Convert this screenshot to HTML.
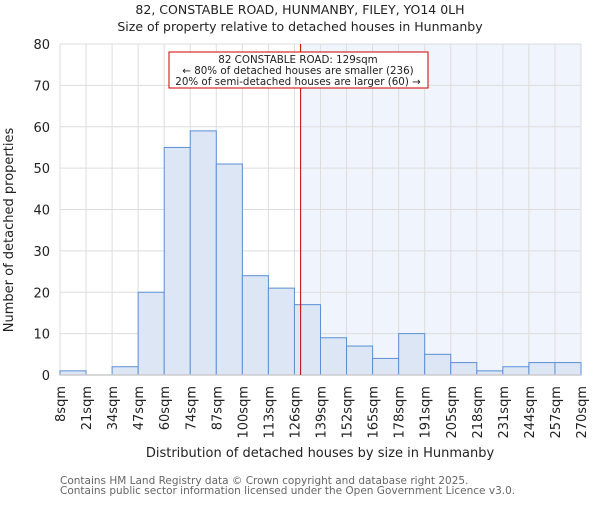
<!DOCTYPE html>
<html><head><meta charset="utf-8"><style>
body{margin:0;background:#fff}
svg{font-family:"DejaVu Sans","Liberation Sans",sans-serif}
</style></head><body>
<svg width="600" height="500">
<g id="chart"></g>
</svg>
<script>
const binEdges=["8sqm","21sqm","34sqm","47sqm","60sqm","74sqm","87sqm","100sqm","113sqm","126sqm","139sqm","152sqm","165sqm","178sqm","191sqm","205sqm","218sqm","231sqm","244sqm","257sqm","270sqm"];
const counts=[1,0,2,20,55,59,51,24,21,17,9,7,4,10,5,3,1,2,3,3];
const yTicks=[0,10,20,30,40,50,60,70,80];
const subjectSize=129;
const minSize=8, maxSize=270;

const NS="http://www.w3.org/2000/svg";
const g=document.getElementById('chart');
const L=60,R=581,T=44,B=375,yMax=80;
const bw=(R-L)/counts.length;
const xS=v=>L+(v-minSize)/(maxSize-minSize)*(R-L);
const yS=v=>B-v/yMax*(B-T);
function el(tag,attrs,text){const e=document.createElementNS(NS,tag);for(const k in attrs)e.setAttribute(k,attrs[k]);if(text!==undefined)e.textContent=text;g.appendChild(e);return e;}

let sx=xS(subjectSize);
let sh=el('rect',{x:sx,y:T,width:R-sx,height:B-T,fill:'#f0f4fc'});


yTicks.forEach(t=>{let l=el('line',{x1:L,x2:R,y1:yS(t),y2:yS(t),stroke:'#ddd','stroke-width':1});

});
binEdges.forEach((b,i)=>{let x=L+i*bw;let l=el('line',{x1:x,x2:x,y1:T,y2:B,stroke:'#ddd','stroke-width':1});

});
counts.forEach((c,i)=>{if(c<=0)return;let r=el('rect',{x:L+i*bw,y:yS(c),width:bw,height:B-yS(c),fill:'#dce6f5',stroke:'#5b8fd6','stroke-width':1});

});
let ax=el('line',{x1:L,x2:R,y1:B,y2:B,stroke:'#ccc','stroke-width':1.5});


yTicks.forEach(t=>{let tx=el('text',{x:L-10,y:yS(t)+5,'text-anchor':'end','font-size':13,fill:'#222'},t);

});
binEdges.forEach((b,i)=>{let x=L+i*bw+5;let tx=el('text',{x:x,y:386,'text-anchor':'end','font-size':13,fill:'#222',transform:`rotate(-90 ${x} 386)`},b);

});
let sl=el('line',{x1:sx,x2:sx,y1:T,y2:B,stroke:'#cc0000','stroke-width':1});


let bx=el('rect',{x:169,y:52,width:259,height:36,fill:'#fff',stroke:'#cc0000','stroke-width':1});


[["82 CONSTABLE ROAD: 129sqm",62],["← 80% of detached houses are smaller (236)",73],["20% of semi-detached houses are larger (60) →",84]].forEach(a=>{
let t=el('text',{x:298,y:a[1]+1,'text-anchor':'middle','font-size':10.3,fill:'#222'},a[0]);

});
let t1=el('text',{x:300,y:14,'text-anchor':'middle','font-size':12.5,fill:'#222'},"82, CONSTABLE ROAD, HUNMANBY, FILEY, YO14 0LH");


let t2=el('text',{x:300,y:31,'text-anchor':'middle','font-size':12.5,fill:'#222'},"Size of property relative to detached houses in Hunmanby");


let xt=el('text',{x:320,y:457,'text-anchor':'middle','font-size':13,fill:'#222'},"Distribution of detached houses by size in Hunmanby");


let yt=el('text',{x:13,y:230,'text-anchor':'middle','font-size':13,fill:'#222',transform:'rotate(-90 13 230)'},"Number of detached properties");


let f1=el('text',{x:60,y:484,'font-size':10.5,fill:'#666'},"Contains HM Land Registry data © Crown copyright and database right 2025.");


let f2=el('text',{x:60,y:494,'font-size':10.5,fill:'#666'},"Contains public sector information licensed under the Open Government Licence v3.0.");


</script>
</body></html>
